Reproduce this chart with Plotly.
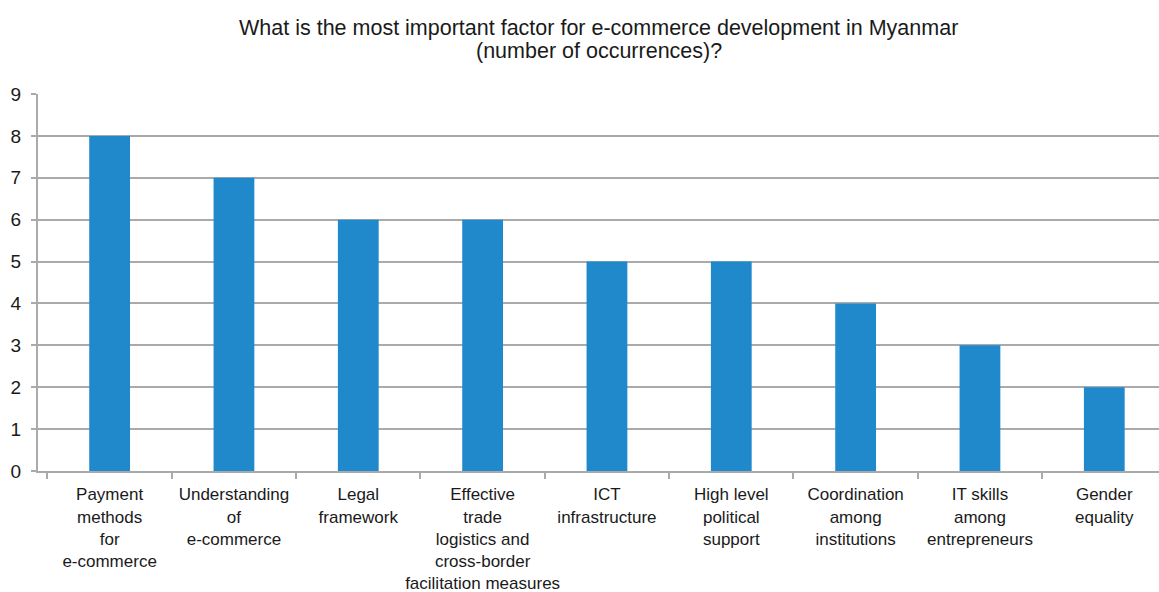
import plotly.graph_objects as go

# Survey answers: most important factor for e-commerce development
factors = [
    "Payment<br>methods<br>for<br>e-commerce",
    "Understanding<br>of<br>e-commerce",
    "Legal<br>framework",
    "Effective<br>trade<br>logistics and<br>cross-border<br>facilitation measures",
    "ICT<br>infrastructure",
    "High level<br>political<br>support",
    "Coordination<br>among<br>institutions",
    "IT skills<br>among<br>entrepreneurs",
    "Gender<br>equality",
]
occurrences = [8, 7, 6, 6, 5, 5, 4, 3, 2]
y_ticks = list(range(0, 10))
title_lines = [
    "What is the most important factor for e-commerce development in Myanmar",
    "(number of occurrences)?",
]

FONT = "Liberation Sans, Arial, Helvetica, sans-serif"
GRID = "#aaaaaa"
TEXT = "#1a1a1a"

fig = go.Figure(
    go.Bar(
        x=factors,
        y=occurrences,
        marker=dict(color="#2089cc", line=dict(width=0)),
        hoverinfo="x+y",
    )
)

# two-line heading, each line placed on its own
for i, line in enumerate(title_lines):
    fig.add_annotation(
        text=line,
        xref="paper",
        yref="paper",
        x=0.5,
        xanchor="center",
        y=1 + (66 - 23 * i) / 377,
        yanchor="middle",
        showarrow=False,
        font=dict(family=FONT, size=21.5, color=TEXT),
    )

fig.update_layout(
    width=1159,
    height=592,
    margin=dict(l=38, r=0, t=94, b=121),
    paper_bgcolor="white",
    plot_bgcolor="white",
    bargap=0.672,
    showlegend=False,
    font=dict(family=FONT, color=TEXT),
)

fig.update_xaxes(
    type="category",
    range=[-0.576, 8.44],
    automargin=False,
    showgrid=False,
    showline=True,
    linecolor=GRID,
    linewidth=2,
    ticks="outside",
    tickson="boundaries",
    ticklen=6,
    tickwidth=2,
    tickcolor=GRID,
    ticklabelstandoff=7,
    tickfont=dict(family=FONT, size=17, color=TEXT),
    tickangle=0,
)

fig.update_yaxes(
    range=[0, 9],
    tickvals=y_ticks,
    automargin=False,
    showgrid=True,
    gridcolor=GRID,
    gridwidth=2,
    showline=True,
    linecolor=GRID,
    linewidth=2,
    ticks="outside",
    ticklen=5,
    tickwidth=2,
    tickcolor=GRID,
    ticklabelstandoff=6,
    tickfont=dict(family=FONT, size=19, color=TEXT),
    zeroline=False,
)

fig.write_html("out.html")
